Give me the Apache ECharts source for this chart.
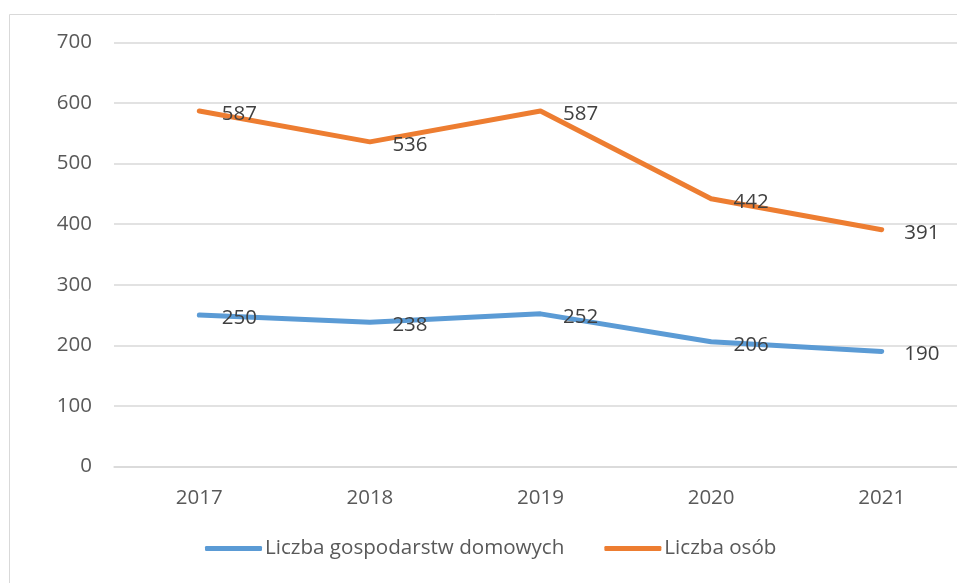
<!DOCTYPE html>
<html>
<head>
<meta charset="utf-8">
<script src="https://cdn.jsdelivr.net/npm/echarts@6/dist/echarts.min.js"></script>
<style>
html,body{margin:0;padding:0;background:#fff;overflow:hidden;}
#chart{width:980px;height:583px;}
</style>
</head>
<body>
<div id="chart"></div>
<script>
// dane do wykresu
var lata = ['2017', '2018', '2019', '2020', '2021'];
var gospodarstwa = [250, 238, 252, 206, 190];
var osoby = [587, 536, 587, 442, 391];
var nazwy = ['Liczba gospodarstw domowych', 'Liczba osób'];

var FONT = '"Open Sans", "Noto Sans", sans-serif';
var chart = echarts.init(document.getElementById('chart'));

function seria(nazwa, dane, kolor){
	return {
		name: nazwa,
		type: 'line',
		data: dane,
		symbol: 'circle',
		symbolSize: 1,
		showSymbol: true,
		lineStyle: {color: kolor, width: 5, cap: 'round', join: 'round'},
		itemStyle: {color: kolor},
		label: {
			show: true,
			position: 'right',
			distance: 22,
			offset: [0, 3],
			color: '#404040',
			fontFamily: FONT,
			fontSize: 20.5
		},
		emphasis: {disabled: true}
	};
}

var option = {
	animation: false,
	textStyle: {fontFamily: FONT},
	graphic: [{
		type: 'rect',
		shape: {x: 9.5, y: 14.5, width: 1000, height: 600},
		style: {fill: 'none', stroke: '#d9d9d9', lineWidth: 1},
		silent: true
	}],
	grid: {left: 114, top: 42.5, width: 853, height: 424},
	xAxis: {
		type: 'category',
		data: lata,
		boundaryGap: true,
		axisLine: {show: true, lineStyle: {color: '#d9d9d9', width: 1.5}},
		axisTick: {show: false},
		axisLabel: {color: '#595959', fontSize: 20.5, fontFamily: FONT, margin: 21}
	},
	yAxis: {
		type: 'value',
		min: 0,
		max: 700,
		interval: 100,
		axisLine: {show: false},
		axisTick: {show: false},
		splitLine: {lineStyle: {color: '#d9d9d9', width: 1.5}},
		axisLabel: {color: '#595959', fontSize: 20.5, fontFamily: FONT, margin: 22}
	},
	legend: {
		left: 205,
		top: 538,
		padding: 0,
		icon: 'roundRect',
		itemWidth: 57,
		itemHeight: 5,
		itemGap: 40,
		textStyle: {color: '#595959', fontSize: 20.6, fontFamily: FONT, padding: [0, 0, 0, -2]},
		data: nazwy
	},
	series: [
		seria(nazwy[0], gospodarstwa, '#5b9bd5'),
		seria(nazwy[1], osoby, '#ed7d31')
	]
};
chart.setOption(option);
</script>
</body>
</html>
